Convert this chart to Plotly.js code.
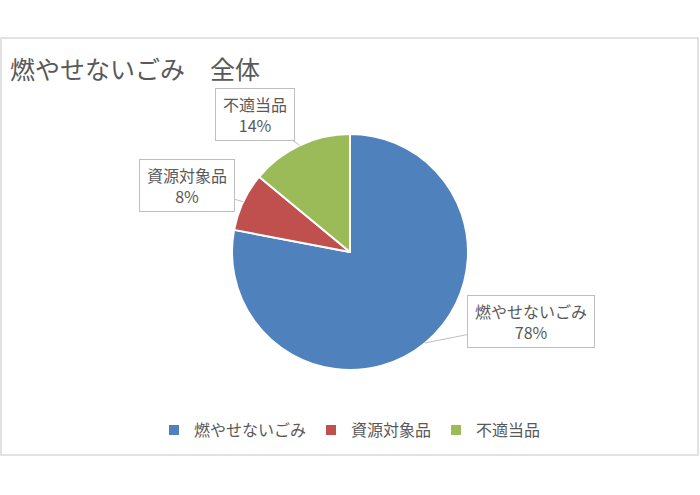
<!DOCTYPE html>
<html>
<head>
<meta charset="utf-8">
<script src="https://cdn.plot.ly/plotly-3.0.1.min.js"></script>
<style>
  body { margin: 0; background: #fff; }
  #chart { width: 700px; height: 495px; }
</style>
</head>
<body>
<div id="chart"></div>
<script>
const labels = ['燃やせないごみ', '資源対象品', '不適当品']
const values = [78, 8, 14]
const colors = ['#4F81BD', '#C0504D', '#9BBB59']
// offsets of each callout box from its slice (pixels)
const calloutOffsets = [[106, -21], [-56, -16], [-45, -31]]

const W = 700
const H = 495
const textColor = '#595959'
const font = 'Noto Sans CJK JP, Noto Sans, sans-serif'

// pie placement
const cx = 350
const cy = 252
const radius = 118

const total = values.reduce((a, b) => a + b, 0)
const annotations = []
let cum = 0
values.forEach((v, i) => {
  // clockwise from 12 o'clock, mid angle of the slice
  const mid = (cum + v / 2) / total * 2 * Math.PI
  cum += v
  const px = cx + radius * Math.sin(mid)
  const py = cy - radius * Math.cos(mid)
  annotations.push({
    xref: 'paper',
    yref: 'paper',
    x: px / W,
    y: 1 - py / H,
    text: labels[i] + '<br>' + Math.round(v / total * 100) + '%',
    showarrow: true,
    arrowhead: 0,
    arrowwidth: 1,
    arrowcolor: '#bfbfbf',
    ax: calloutOffsets[i][0],
    ay: calloutOffsets[i][1],
    width: labels[i].length * 16 + 8,
    bgcolor: '#ffffff',
    bordercolor: '#bfbfbf',
    borderwidth: 1,
    borderpad: 3,
    font: { family: font, size: 16, color: textColor }
  })
})

const data = [{
  type: 'pie',
  labels: labels,
  values: values,
  sort: false,
  direction: 'clockwise',
  rotation: 0,
  textinfo: 'none',
  hoverinfo: 'label+percent',
  marker: {
    colors: colors,
    line: { color: '#ffffff', width: 2 }
  },
  domain: {
    x: [(cx - radius) / W, (cx + radius) / W],
    y: [1 - (cy + radius) / H, 1 - (cy - radius) / H]
  }
}]

const layout = {
  width: W,
  height: H,
  margin: { l: 0, r: 0, t: 0, b: 0 },
  paper_bgcolor: '#ffffff',
  title: {
    text: '燃やせないごみ　全体',
    font: { family: font, size: 25, color: textColor },
    xref: 'paper',
    yref: 'paper',
    x: 10 / W,
    xanchor: 'left',
    y: 1 - 70 / H,
    yanchor: 'middle'
  },
  showlegend: true,
  legend: {
    orientation: 'h',
    x: 0.5,
    xanchor: 'center',
    y: 1 - 430 / H,
    yanchor: 'middle',
    font: { family: font, size: 16, color: textColor },
    itemwidth: 30
  },
  annotations: annotations,
  shapes: [{
    type: 'rect',
    xref: 'paper',
    yref: 'paper',
    x0: 1 / W,
    x1: 698 / W,
    y0: 1 - 455 / H,
    y1: 1 - 38 / H,
    line: { color: '#d9d9d9', width: 1.5 }
  }]
}

Plotly.newPlot('chart', data, layout, { displayModeBar: false })
</script>
</body>
</html>
